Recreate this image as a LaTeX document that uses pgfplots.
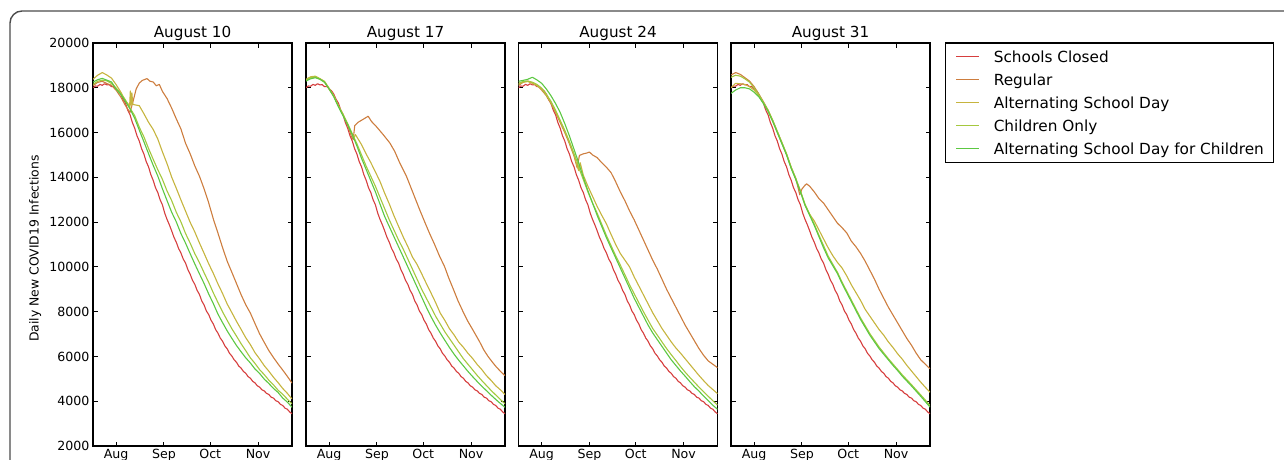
\documentclass[border=0pt]{standalone}
\usepackage{fontspec}
\setmainfont{DejaVu Sans}
\usepackage{pgfplots}
\pgfplotsset{compat=1.18}
\usepackage{pgfplotstable}

\definecolor{cClosed}{RGB}{214,62,62}
\definecolor{cRegular}{RGB}{205,125,62}
\definecolor{cAlt}{RGB}{198,180,62}
\definecolor{cChild}{RGB}{165,200,62}
\definecolor{cAltChild}{RGB}{92,200,66}

% schools closed baseline (same scenario in every panel)
\pgfplotstableread{
d v
-15 18000
-13.5 18080
-12 18070
-10.5 18150
-9 18110
-7.5 18180
-6 18130
-4.5 18140
-3 18050
-1.5 18060
0 17950
1.5 17870
3 17720
4.5 17480
6 17320
7.5 17010
9 16800
10.5 16450
12 16200
13.5 15860
15 15620
16.5 15280
18 15040
19.5 14700
21 14470
22.5 14120
24 13870
25.5 13540
27 13320
28.5 13000
30 12770
31.5 12400
33 12120
34.5 11880
36 11610
37.5 11320
39 11100
40.5 10820
42 10620
43.5 10350
45 10170
46.5 9880
48 9670
49.5 9400
51 9220
52.5 8950
54 8770
55.5 8480
57 8300
58.5 8030
60 7870
61.5 7620
63 7450
64.5 7200
66 7040
67.5 6820
69 6680
70.5 6470
72 6340
73.5 6140
75 6020
76.5 5850
78 5740
79.5 5570
81 5480
82.5 5330
84 5250
85.5 5100
87 5030
88.5 4890
90 4820
91.5 4690
93 4630
94.5 4510
96 4460
97.5 4350
99 4300
100.5 4180
102 4140
103.5 4020
105 3980
106.5 3860
108 3810
109.5 3690
111 3640
112.5 3520
114 3440
}\closed

\pgfplotsset{
  panel/.style={
    scale only axis, width=199pt, height=403pt,
    anchor=south west,
    xmin=-15, xmax=114, ymin=2000, ymax=20000,
    scaled y ticks=false, scaled x ticks=false,
    xtick={0,31,61,92}, xticklabels={Aug,Sep,Oct,Nov},
    ytick={2000,4000,6000,8000,10000,12000,14000,16000,18000,20000},
    yticklabels={},
    tick align=inside, major tick length=4.5pt,
    every tick/.style={black, line width=1pt},
    axis line style={black, line width=1.3pt},
    ticklabel style={font=\fontsize{12.6}{15}\selectfont},
    every axis title/.style={at={(0.5,1)}, anchor=base, yshift=5.5pt,
      font=\fontsize{15.2}{18}\selectfont},
    every axis plot/.append style={line width=1.1pt, line join=round, no markers},
  },
}

\begin{document}
\begin{tikzpicture}
\draw[line width=1.4pt, black!70, rounded corners=12pt] (10pt,-60pt) rectangle (1320pt,448pt);

% ---- August 10
\begin{axis}[panel, at={(93pt,13pt)}, title={August 10},
  yticklabels={2000,4000,6000,8000,10000,12000,14000,16000,18000,20000},
  ylabel={Daily New COVID19 Infections},
  every axis y label/.style={at={(axis description cs:-0.29,0.49)}, rotate=90,
    anchor=center, font=\fontsize{12.4}{15}\selectfont}]
\addplot[cClosed] table[x=d,y=v] {\closed};
\addplot[cRegular] coordinates {(-15,18100) (-12,18240) (-9,18290) (-6,18190) (-3,18110) (0,17890) (3,17590) (6,17210) (8,17000) (9,16900) (10,17150) (11,17400) (13,17950) (15,18210) (17,18330) (20,18410) (22,18290) (24,18260) (26,18090) (28,18150) (30,17840) (33,17520) (36,17090) (39,16610) (42,16160) (45,15520) (48,15050) (51,14510) (54,14050) (57,13490) (60,12860) (63,12140) (66,11510) (69,10860) (72,10250) (75,9760) (78,9260) (81,8760) (84,8310) (87,7940) (90,7470) (93,7010) (96,6630) (99,6260) (102,5950) (105,5660) (108,5390) (111,5110) (114,4810)};
\addplot[cAlt] coordinates {(-15,18380) (-12,18560) (-9,18680) (-6,18570) (-3,18430) (0,18140) (3,17810) (6,17420) (8,17260) (8.7,17120) (9.2,17860) (9.7,17180) (10.2,17780) (10.8,17260) (12,17240) (15,17200) (18,16840) (21,16460) (24,16140) (27,15710) (30,15140) (33,14610) (36,14010) (39,13510) (42,12990) (45,12490) (48,11990) (51,11560) (54,11070) (57,10610) (60,10140) (63,9710) (66,9240) (69,8810) (72,8340) (75,7960) (78,7570) (81,7210) (84,6840) (87,6530) (90,6170) (93,5890) (96,5590) (99,5340) (102,5070) (105,4830) (108,4570) (111,4350) (114,4100)};
\addplot[cChild] coordinates {(-15,18150) (-12,18290) (-9,18340) (-6,18310) (-3,18190) (0,17990) (3,17740) (6,17460) (9,17090) (12,16760) (15,16240) (18,15810) (21,15290) (24,14810) (27,14340) (30,13910) (33,13390) (36,12960) (39,12440) (42,12010) (45,11490) (48,11060) (51,10590) (54,10190) (57,9740) (60,9310) (63,8840) (66,8410) (69,7990) (72,7610) (75,7240) (78,6910) (81,6570) (84,6260) (87,5940) (90,5690) (93,5410) (96,5190) (99,4940) (102,4730) (105,4490) (108,4310) (111,4090) (114,3880)};
\addplot[cAltChild] coordinates {(-15,18250) (-12,18360) (-9,18420) (-6,18340) (-3,18260) (0,17940) (3,17710) (6,17390) (9,17060) (12,16640) (15,16110) (18,15590) (21,15060) (24,14540) (27,14060) (30,13490) (33,12960) (36,12440) (39,12010) (42,11490) (45,11060) (48,10590) (51,10130) (54,9690) (57,9260) (60,8790) (63,8360) (66,7890) (69,7510) (72,7140) (75,6810) (78,6490) (81,6210) (84,5940) (87,5710) (90,5440) (93,5240) (96,4990) (99,4790) (102,4570) (105,4390) (108,4140) (111,3960) (114,3730)};
\end{axis}

% ---- August 17
\begin{axis}[panel, at={(306pt,13pt)}, title={August 17}]
\addplot[cClosed] table[x=d,y=v] {\closed};
\addplot[cRegular] coordinates {(-15,18350) (-12,18460) (-9,18480) (-6,18390) (-3,18260) (0,17940) (3,17630) (6,17190) (9,16810) (12,16340) (14.5,15810) (15.6,15690) (16.6,16310) (18.8,16460) (22,16590) (25.3,16730) (27.4,16500) (30.7,16260) (35,15910) (39.3,15540) (42.5,15160) (45.8,14640) (50.1,14050) (54.4,13300) (58.7,12550) (62,12000) (65,11510) (68.5,10980) (71.5,10490) (74.9,10000) (77.5,9510) (80.3,9040) (83.5,8490) (86.8,8000) (90,7560) (93.3,7170) (97.6,6650) (100,6320) (103,6000) (106,5730) (108.4,5530) (111,5340) (114,5140)};
\addplot[cAlt] coordinates {(-15,18380) (-12,18490) (-9,18520) (-6,18410) (-3,18290) (0,17980) (3,17650) (6,17190) (9,16810) (12,16370) (15,15900) (16,15750) (17,15910) (18,15800) (21,15460) (24,15040) (27,14660) (30,14240) (33,13810) (36,13290) (39,12810) (42,12290) (45,11810) (48,11340) (51,10910) (54,10440) (57,10110) (60,9690) (63,9260) (66,8840) (69,8410) (72,7940) (75,7610) (78,7240) (81,6960) (84,6640) (87,6410) (90,6140) (93,5910) (96,5640) (99,5410) (102,5140) (105,4930) (108,4690) (111,4510) (114,4300)};
\addplot[cChild] coordinates {(-15,18350) (-12,18450) (-9,18500) (-6,18400) (-3,18250) (0,17950) (3,17620) (6,17200) (9,16800) (12,16400) (15,15950) (18,15500) (21,15000) (24,14500) (27,14050) (30,13600) (33,13100) (36,12600) (39,12100) (42,11650) (45,11200) (48,10800) (51,10350) (54,9900) (57,9450) (60,9000) (63,8600) (66,8200) (69,7800) (72,7450) (75,7100) (78,6800) (81,6500) (84,6200) (87,5900) (90,5650) (93,5400) (96,5150) (99,4920) (102,4700) (105,4480) (108,4280) (111,4080) (114,3880)};
\addplot[cAltChild] coordinates {(-15,18300) (-12,18400) (-9,18450) (-6,18380) (-3,18250) (0,17950) (3,17600) (6,17150) (9,16750) (12,16350) (15,15900) (18,15400) (21,14850) (24,14350) (27,13850) (30,13350) (33,12800) (36,12250) (39,11800) (42,11350) (45,10900) (48,10450) (51,10000) (54,9550) (57,9100) (60,8650) (63,8200) (66,7780) (69,7400) (72,7050) (75,6720) (78,6400) (81,6100) (84,5830) (87,5580) (90,5330) (93,5100) (96,4880) (99,4670) (102,4470) (105,4270) (108,4080) (111,3900) (114,3730)};
\end{axis}

% ---- August 24
\begin{axis}[panel, at={(518.5pt,13pt)}, title={August 24}]
\addplot[cClosed] table[x=d,y=v] {\closed};
\addplot[cRegular] coordinates {(-15,18100) (-12,18250) (-9,18300) (-6,18220) (-3,18100) (0,17900) (3,17650) (6,17300) (9,16900) (12,16450) (15,16000) (18,15500) (21,14950) (23,14430) (24.5,14980) (27,15050) (29,15080) (31,15130) (33,15000) (36,14880) (39,14650) (42,14450) (45,14210) (48,13800) (51,13350) (54,12950) (57,12500) (60,12100) (63,11650) (66,11200) (69,10750) (72,10300) (75,9900) (78,9450) (81,9000) (84,8600) (87,8200) (90,7800) (93,7400) (96,7050) (99,6700) (102,6350) (105,6050) (108,5800) (111,5650) (114,5500)};
\addplot[cAlt] coordinates {(-15,18150) (-12,18250) (-9,18280) (-6,18200) (-3,18100) (0,17950) (3,17680) (6,17350) (9,16950) (12,16500) (15,16050) (18,15550) (21,15000) (23,14500) (24,14300) (25,14650) (27,14100) (30,13600) (33,13150) (36,12700) (39,12300) (42,11920) (45,11450) (48,11000) (51,10600) (54,10300) (57,10000) (60,9550) (63,9150) (66,8750) (69,8350) (72,7950) (75,7600) (78,7250) (81,6950) (84,6650) (87,6380) (90,6150) (93,5900) (96,5650) (99,5400) (102,5150) (105,4920) (108,4700) (111,4520) (114,4340)};
\addplot[cChild] coordinates {(-15,18200) (-12,18280) (-9,18300) (-6,18250) (-3,18150) (0,17980) (3,17720) (6,17400) (9,17000) (12,16550) (15,16100) (18,15600) (21,15050) (23,14700) (24,14450) (27,13900) (30,13350) (33,12850) (36,12400) (39,11900) (42,11400) (45,10950) (48,10500) (51,10080) (54,9650) (57,9200) (60,8800) (63,8400) (66,8000) (69,7620) (72,7250) (75,6950) (78,6650) (81,6350) (84,6080) (87,5820) (90,5550) (93,5300) (96,5070) (99,4850) (102,4630) (105,4420) (108,4220) (111,4020) (114,3830)};
\addplot[cAltChild] coordinates {(-15,18290) (-12,18330) (-9,18380) (-6,18470) (-3,18350) (0,18200) (3,17950) (6,17650) (9,17300) (12,16900) (15,16400) (18,15850) (21,15250) (24,14650) (27,14000) (30,13400) (33,12850) (36,12300) (39,11800) (42,11300) (45,10850) (48,10400) (51,9950) (54,9500) (57,9050) (60,8600) (63,8200) (66,7800) (69,7400) (72,7050) (75,6750) (78,6450) (81,6150) (84,5850) (87,5600) (90,5350) (93,5120) (96,4880) (99,4650) (102,4450) (105,4230) (108,4030) (111,3820) (114,3640)};
\end{axis}

% ---- August 31
\begin{axis}[panel, at={(731pt,13pt)}, title={August 31},
  legend cell align=left,
  legend style={at={(1,1)}, anchor=north west, xshift=15pt, yshift=0.7pt,
    draw=black, line width=1.2pt, fill=white,
    font=\fontsize{15.3}{18}\selectfont,
    inner xsep=10pt, inner ysep=2.4pt, row sep=0pt,
    nodes={inner sep=0pt, text height=17.15pt, text depth=5.75pt}},
  legend image code/.code={\draw[#1, line width=1.3pt] (0pt,0pt) -- (23pt,0pt); \path (37pt,0pt);}]
\addplot[cClosed] table[x=d,y=v] {\closed};
\addplot[cRegular] coordinates {(-15,18570) (-12,18680) (-9,18600) (-6,18450) (-3,18300) (0,18050) (3,17720) (6,17380) (9,17000) (12,16550) (15,16050) (18,15550) (21,15030) (24,14450) (27,13950) (29.6,13220) (31,13480) (33,13650) (34,13710) (36,13600) (39,13350) (42,13050) (45,12850) (48,12550) (51,12250) (54,11950) (57,11750) (60,11520) (63,11150) (66,10900) (69,10600) (72,10250) (75,9850) (78,9450) (81,9000) (84,8600) (87,8200) (90,7850) (93,7500) (96,7150) (99,6800) (102,6500) (105,6150) (108,5850) (111,5650) (114,5450)};
\addplot[cAlt] coordinates {(-15,18000) (-12,18200) (-9,18180) (-6,18150) (-3,18050) (0,17900) (3,17650) (6,17320) (9,16980) (12,16520) (15,16020) (18,15520) (21,15020) (24,14430) (27,13920) (30,13380) (33,12750) (36,12350) (39,12050) (42,11650) (45,11250) (48,10850) (51,10500) (54,10200) (57,9950) (60,9600) (63,9200) (66,8850) (69,8500) (72,8100) (75,7800) (78,7500) (81,7200) (84,6950) (87,6650) (90,6400) (93,6120) (96,5880) (99,5600) (102,5350) (105,5100) (108,4850) (111,4620) (114,4400)};
\addplot[cChild] coordinates {(-15,18470) (-12,18560) (-9,18520) (-6,18400) (-3,18250) (0,18000) (3,17700) (6,17350) (9,17000) (12,16550) (15,16050) (18,15550) (21,15050) (24,14450) (27,13950) (30,13400) (33,12800) (36,12350) (39,11900) (42,11420) (45,10950) (48,10480) (51,10120) (54,9760) (57,9320) (60,8920) (63,8520) (66,8120) (69,7720) (72,7370) (75,7020) (78,6720) (81,6420) (84,6160) (87,5900) (90,5660) (93,5420) (96,5180) (99,4960) (102,4740) (105,4510) (108,4280) (111,4050) (114,3810)};
\addplot[cAltChild] coordinates {(-15,17750) (-12,17900) (-9,18000) (-6,18000) (-3,17950) (0,17800) (3,17600) (6,17300) (9,16950) (12,16500) (15,16000) (18,15500) (21,15000) (24,14400) (27,13900) (30,13350) (33,12750) (36,12300) (39,11850) (42,11350) (45,10850) (48,10400) (51,10050) (54,9700) (57,9250) (60,8850) (63,8450) (66,8050) (69,7650) (72,7300) (75,6950) (78,6650) (81,6350) (84,6100) (87,5850) (90,5600) (93,5370) (96,5120) (99,4900) (102,4680) (105,4450) (108,4220) (111,3980) (114,3740)};
\legend{Schools Closed, Regular, Alternating School Day, Children Only, Alternating School Day for Children}
\end{axis}

\pgfresetboundingbox
\path[use as bounding box] (0pt,0pt) rectangle (1284pt,459pt);
\end{tikzpicture}
\end{document}
